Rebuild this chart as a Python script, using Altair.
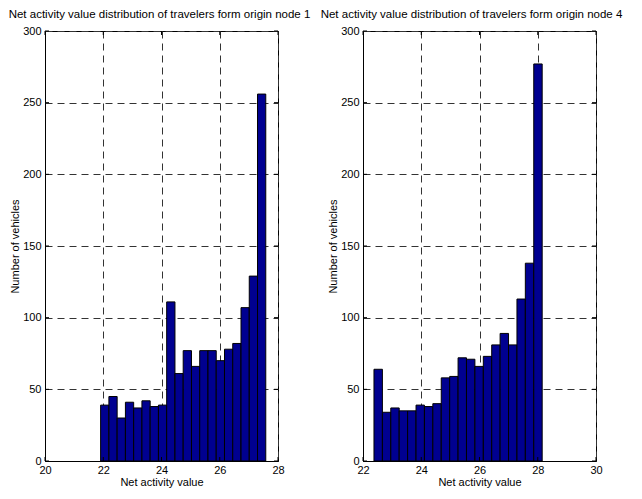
import altair as alt
import pandas as pd

W, H = 233, 430
FONT = "Liberation Sans"

title1 = "Net activity value distribution of travelers form origin node 1"
title2 = "Net activity value distribution of travelers form origin node 4"
x_title = "Net activity value"
y_title = "Number of vehicles"

# bin edges and counts
edges1 = [21.910, 22.194, 22.477, 22.761, 23.044, 23.328, 23.611, 23.895, 24.178, 24.462,
          24.745, 25.029, 25.312, 25.596, 25.879, 26.163, 26.446, 26.730, 27.013, 27.297, 27.580]
counts1 = [39, 45, 30, 41, 37, 42, 38, 39, 111, 61, 77, 66, 77, 77, 70, 78, 82, 107, 129, 256]

edges2 = [22.377, 22.666, 22.954, 23.243, 23.532, 23.821, 24.109, 24.398, 24.687, 24.976,
          25.264, 25.553, 25.842, 26.131, 26.419, 26.708, 26.997, 27.286, 27.574, 27.863, 28.152]
counts2 = [64, 34, 37, 35, 35, 39, 38, 40, 58, 59, 72, 71, 66, 73, 81, 89, 81, 113, 138, 277]

xdom1 = [20, 28]
xdom2 = [22, 30]
xticks1 = [20, 22, 24, 26, 28]
xticks2 = [22, 24, 26, 28, 30]
yticks = [0, 50, 100, 150, 200, 250, 300]

TICK = 4


def panel(edges, counts, xdom, xticks, title, dx):
    df = pd.DataFrame({"start": edges[:-1], "end": edges[1:], "count": counts})
    xs = alt.Scale(domain=xdom, nice=False, zero=False)
    ys = alt.Scale(domain=[0, 300], nice=False)
    xax = alt.Axis(values=xticks, title=x_title, format="d", grid=True, labelFlush=False,
                   ticks=False, labelPadding=3, titlePadding=1)
    yax = alt.Axis(values=yticks, title=y_title, format="d", grid=True, labelFlush=False,
                   ticks=False, labelPadding=4, titlePadding=2)
    bars = alt.Chart(df).mark_bar(
        fill="#000090", stroke="black", strokeWidth=1, opacity=1
    ).encode(
        x=alt.X("start:Q", scale=xs, axis=xax),
        x2="end:Q",
        y=alt.Y("count:Q", scale=ys, axis=yax),
        y2=alt.datum(0),
    )
    xt = pd.DataFrame({"v": xticks})
    yt = pd.DataFrame({"v": yticks})
    tb = alt.Chart(xt).mark_rule(color="black", strokeWidth=1).encode(
        x=alt.X("v:Q", scale=xs, axis=xax), y=alt.value(H), y2=alt.value(H - TICK))
    tt = alt.Chart(xt).mark_rule(color="black", strokeWidth=1).encode(
        x=alt.X("v:Q", scale=xs, axis=xax), y=alt.value(0), y2=alt.value(TICK))
    tl = alt.Chart(yt).mark_rule(color="black", strokeWidth=1).encode(
        y=alt.Y("v:Q", scale=ys, axis=yax), x=alt.value(0), x2=alt.value(TICK))
    tr = alt.Chart(yt).mark_rule(color="black", strokeWidth=1).encode(
        y=alt.Y("v:Q", scale=ys, axis=yax), x=alt.value(W), x2=alt.value(W - TICK))
    return alt.layer(bars, tb, tt, tl, tr).properties(
        width=W, height=H,
        title=alt.TitleParams(title, fontSize=11.5, font=FONT, fontWeight="normal",
                              color="black", offset=5, dx=dx),
    )


left = panel(edges1, counts1, xdom1, xticks1, title1, -2)
right = panel(edges2, counts2, xdom2, xticks2, title2, -8)

chart = alt.hconcat(left, right, spacing=85, bounds="flush").properties(
    padding={"left": 0, "top": 0, "right": 0, "bottom": 0}
).configure_view(
    stroke="black", strokeWidth=1
).configure_axis(
    labelFont=FONT, titleFont=FONT, labelFontSize=11, titleFontSize=11,
    labelColor="black", titleColor="black", titleFontWeight="normal",
    domainColor="black", domainWidth=1,
    gridColor="#333333", gridDash=[7, 5], gridWidth=1, gridOpacity=1,
)

chart.save("out.html", embed_options={"renderer": "svg", "actions": False})
